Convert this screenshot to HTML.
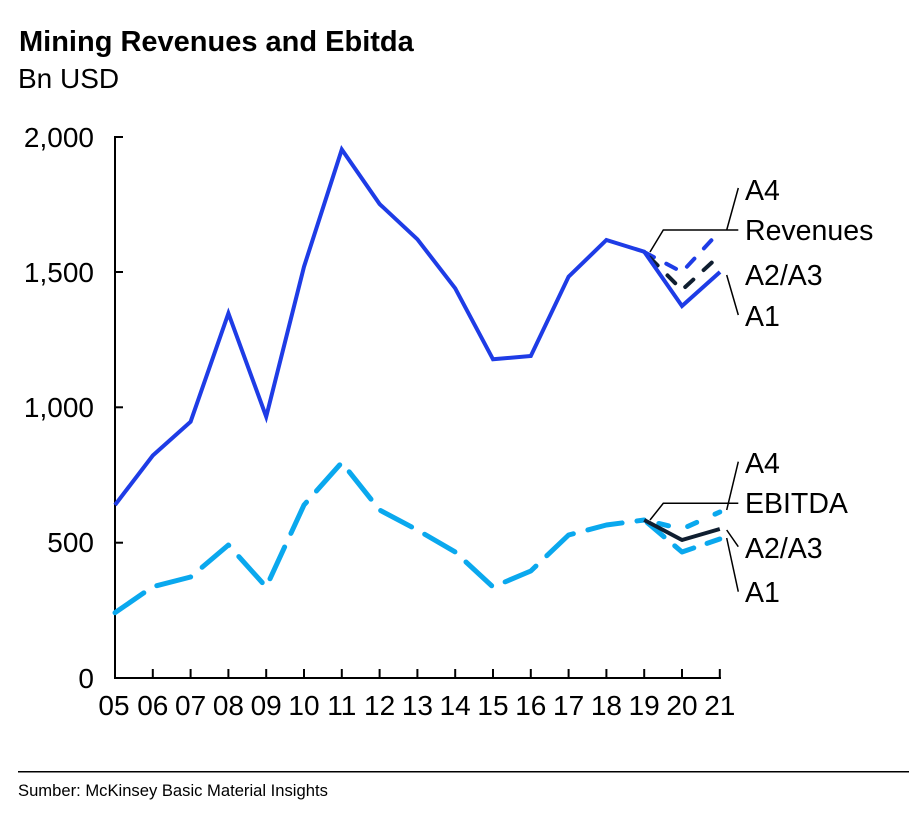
<!DOCTYPE html>
<html>
<head>
<meta charset="utf-8">
<style>
  html, body { margin: 0; padding: 0; background: #ffffff; }
  body { width: 909px; height: 814px; overflow: hidden; }
  svg { display: block; font-family: "Liberation Sans", Arial, sans-serif; }
</style>
</head>
<body>
<svg width="909" height="814" viewBox="0 0 909 814" xmlns="http://www.w3.org/2000/svg">
  <rect x="0" y="0" width="909" height="814" fill="#ffffff"/>

  <!-- Title -->
  <text x="19" y="51" font-size="29" font-weight="bold" fill="#000">Mining Revenues and Ebitda</text>
  <text x="18" y="88" font-size="28" fill="#000">Bn USD</text>

  <!-- Axes -->
  <g stroke="#000" stroke-width="2" fill="none">
    <polyline points="123,137 115,137 115,678 721,678"/>
    <line x1="115" y1="272" x2="123" y2="272"/>
    <line x1="115" y1="407.3" x2="123" y2="407.3"/>
    <line x1="115" y1="542.7" x2="123" y2="542.7"/>
    <g>
      <line x1="152.8" y1="669" x2="152.8" y2="678"/>
      <line x1="190.6" y1="669" x2="190.6" y2="678"/>
      <line x1="228.4" y1="669" x2="228.4" y2="678"/>
      <line x1="266.2" y1="669" x2="266.2" y2="678"/>
      <line x1="304" y1="669" x2="304" y2="678"/>
      <line x1="341.8" y1="669" x2="341.8" y2="678"/>
      <line x1="379.6" y1="669" x2="379.6" y2="678"/>
      <line x1="417.4" y1="669" x2="417.4" y2="678"/>
      <line x1="455.2" y1="669" x2="455.2" y2="678"/>
      <line x1="493" y1="669" x2="493" y2="678"/>
      <line x1="530.8" y1="669" x2="530.8" y2="678"/>
      <line x1="568.6" y1="669" x2="568.6" y2="678"/>
      <line x1="606.4" y1="669" x2="606.4" y2="678"/>
      <line x1="644.2" y1="669" x2="644.2" y2="678"/>
      <line x1="682" y1="669" x2="682" y2="678"/>
      <line x1="719.8" y1="669" x2="719.8" y2="678"/>
    </g>
  </g>

  <!-- Y labels -->
  <g font-size="28" fill="#000" text-anchor="end">
    <text x="94" y="147">2,000</text>
    <text x="94" y="282">1,500</text>
    <text x="94" y="417">1,000</text>
    <text x="94" y="552">500</text>
    <text x="94" y="688">0</text>
  </g>

  <!-- X labels -->
  <g font-size="28" fill="#000" text-anchor="middle">
    <text x="114" y="715">05</text>
    <text x="152.8" y="715">06</text>
    <text x="190.6" y="715">07</text>
    <text x="228.4" y="715">08</text>
    <text x="266.2" y="715">09</text>
    <text x="304" y="715">10</text>
    <text x="341.8" y="715">11</text>
    <text x="379.6" y="715">12</text>
    <text x="417.4" y="715">13</text>
    <text x="455.2" y="715">14</text>
    <text x="493" y="715">15</text>
    <text x="530.8" y="715">16</text>
    <text x="568.6" y="715">17</text>
    <text x="606.4" y="715">18</text>
    <text x="644.2" y="715">19</text>
    <text x="682" y="715">20</text>
    <text x="719.8" y="715">21</text>
  </g>

  <!-- Revenues scenarios -->
  <polyline points="644.2,252 682,272 720,231" fill="none" stroke="#1e3ce6" stroke-width="4" stroke-dasharray="11 14" stroke-linecap="round" stroke-linejoin="round"/>
  <polyline points="644.2,252 682,290 720,255" fill="none" stroke="#0f1e30" stroke-width="4" stroke-dasharray="11 14" stroke-dashoffset="-8" stroke-linecap="round" stroke-linejoin="round"/>
  <!-- Revenues A1 / historical -->
  <polyline points="115,505 152.8,455.5 190.6,421.7 228.4,313.3 266.2,416.7 304,266.7 341.8,149.5 379.6,204 417.4,239.3 455.2,288.3 493,359.3 530.8,356 568.6,276.7 606.4,240 644.2,251.7 682,306 720,272" fill="none" stroke="#1e3ce6" stroke-width="4" stroke-linejoin="miter"/>

  <!-- EBITDA historical -->
  <polyline points="115,612.7 152.8,586.7 190.6,577 228.4,545 266.2,587 304,505 341.8,462.5 379.6,510 417.4,530 455.2,552 493,587 530.8,571 568.6,535 606.4,525 644.2,520" fill="none" stroke="#0aa8ee" stroke-width="5" stroke-dasharray="35 15" stroke-linecap="round" stroke-linejoin="round"/>
  <!-- EBITDA scenarios -->
  <polyline points="644.2,520 682,529 719.8,512" fill="none" stroke="#0aa8ee" stroke-width="5" stroke-dasharray="10 20" stroke-dashoffset="-15" stroke-linecap="round" stroke-linejoin="round"/>
  <polyline points="644.2,520 682,552 719.8,539" fill="none" stroke="#0aa8ee" stroke-width="5" stroke-dasharray="22 14" stroke-dashoffset="-4" stroke-linecap="round" stroke-linejoin="round"/>
  <polyline points="644.2,520 682,540 719.8,529" fill="none" stroke="#0f1e30" stroke-width="4" stroke-linejoin="round"/>

  <!-- Revenue annotations -->
  <g stroke="#000" stroke-width="1.5" fill="none">
    <polyline points="650,252 663.3,230 738.3,230"/>
    <line x1="726.7" y1="230" x2="738.3" y2="188"/>
    <line x1="726.7" y1="275" x2="738.3" y2="315"/>
  </g>
  <g font-size="28.5" fill="#000">
    <text x="745" y="200">A4</text>
    <text x="745" y="240">Revenues</text>
    <text x="745" y="285">A2/A3</text>
    <text x="745" y="326">A1</text>
  </g>

  <!-- EBITDA annotations -->
  <g stroke="#000" stroke-width="1.5" fill="none">
    <polyline points="650,520 663.3,503.3 738.3,503.3"/>
    <line x1="726.7" y1="510" x2="738.3" y2="461.7"/>
    <line x1="726.7" y1="530" x2="738.3" y2="546.7"/>
    <line x1="726.7" y1="538" x2="738.3" y2="591.7"/>
  </g>
  <g font-size="28.5" fill="#000">
    <text x="745" y="473">A4</text>
    <text x="745" y="513">EBITDA</text>
    <text x="745" y="558">A2/A3</text>
    <text x="745" y="602">A1</text>
  </g>

  <!-- Source -->
  <line x1="18" y1="771.7" x2="909" y2="771.7" stroke="#000" stroke-width="1.5"/>
  <text x="18" y="796" font-size="16.6" fill="#000">Sumber: McKinsey Basic Material Insights</text>
</svg>
</body>
</html>
